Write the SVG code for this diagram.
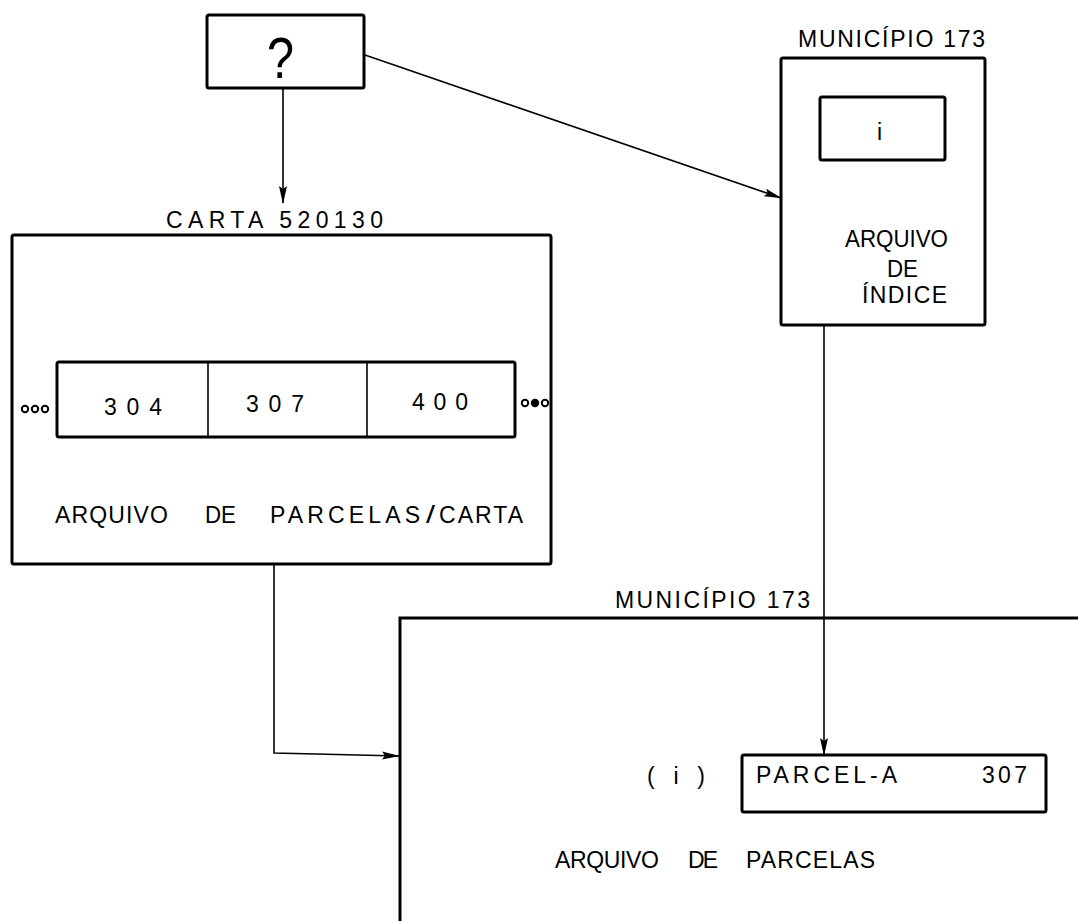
<svg xmlns="http://www.w3.org/2000/svg" width="1078" height="921" viewBox="0 0 1078 921">
<defs>
<marker id="ah" markerWidth="18" markerHeight="10" refX="17" refY="5" orient="auto" markerUnits="userSpaceOnUse">
<path d="M0,1 L18,5 L0,9 L3,5 Z" fill="#000"/>
</marker>
<style>
.box{fill:none;stroke:#000;stroke-width:3}
.thin{fill:none;stroke:#000;stroke-width:1.6}
.t{font-family:"Liberation Sans",Arial,sans-serif;font-size:23px;fill:#000}
</style>
</defs>
<rect width="1078" height="921" fill="#fff"/>
<g id="query">
<rect class="box" x="207" y="15" width="157" height="73" rx="2"/>
<text class="t" x="267" y="78" style="font-size:58px" textLength="27" lengthAdjust="spacingAndGlyphs">?</text>
</g>
<g id="indice">
<text class="t" x="798" y="47" textLength="187" lengthAdjust="spacing">MUNICÍPIO 173</text>
<rect class="box" x="781" y="58" width="204" height="267" rx="2"/>
<rect class="box" x="820" y="97" width="125" height="63" rx="2"/>
<text class="t" x="877" y="140">i</text>
<text class="t" x="845" y="247" textLength="103" lengthAdjust="spacingAndGlyphs">ARQUIVO</text>
<text class="t" x="887" y="277" textLength="31" lengthAdjust="spacingAndGlyphs">DE</text>
<text class="t" x="862" y="303" textLength="85" lengthAdjust="spacing">ÍNDICE</text>
</g>
<g id="carta">
<text class="t" x="166" y="228" textLength="217" lengthAdjust="spacing">CARTA  520130</text>
<rect class="box" x="12" y="235" width="539" height="329" rx="2"/>
<rect class="box" x="57" y="362" width="458" height="75" rx="2"/>
<line class="thin" x1="208" y1="362" x2="208" y2="437"/>
<line class="thin" x1="367" y1="362" x2="367" y2="437"/>
<text class="t" x="104" y="415" textLength="58" lengthAdjust="spacing">304</text>
<text class="t" x="246" y="412" textLength="58" lengthAdjust="spacing">307</text>
<text class="t" x="412" y="410" textLength="56" lengthAdjust="spacing">400</text>
<g fill="none" stroke="#000" stroke-width="2">
<circle cx="25" cy="409" r="3.2"/><circle cx="35" cy="409" r="3.2"/><circle cx="45" cy="409" r="3.2"/>
<circle cx="525" cy="403" r="3.2"/><circle cx="535" cy="403" r="3.2" fill="#000"/><circle cx="545" cy="403" r="3.2"/>
</g>
<text class="t" x="55" y="523" textLength="113" lengthAdjust="spacing">ARQUIVO</text>
<text class="t" x="205" y="523" textLength="31" lengthAdjust="spacingAndGlyphs">DE</text>
<text class="t" x="270" y="523" textLength="150" lengthAdjust="spacing">PARCELAS</text>
<text class="t" x="426" y="523" textLength="9" lengthAdjust="spacingAndGlyphs">/</text>
<text class="t" x="439" y="523" textLength="84" lengthAdjust="spacing">CARTA</text>
</g>
<g id="parcelas">
<text class="t" x="615" y="608" textLength="195" lengthAdjust="spacing">MUNICÍPIO 173</text>
<polyline class="box" points="400,924 400,618 1081,618"/>
<rect class="box" x="742" y="755" width="304" height="57" rx="2"/>
<text class="t" x="647" y="784" textLength="58" lengthAdjust="spacing">( i )</text>
<text class="t" x="756" y="783" textLength="141" lengthAdjust="spacing">PARCEL-A</text>
<text class="t" x="982" y="783" textLength="45" lengthAdjust="spacing">307</text>
<text class="t" x="555" y="868" textLength="104" lengthAdjust="spacing">ARQUIVO</text>
<text class="t" x="688" y="868" textLength="30" lengthAdjust="spacing">DE</text>
<text class="t" x="746" y="868" textLength="129" lengthAdjust="spacing">PARCELAS</text>
</g>
<g id="connectors">
<line class="thin" x1="283" y1="88" x2="283" y2="203" marker-end="url(#ah)"/>
<line class="thin" x1="365" y1="55" x2="781" y2="198" marker-end="url(#ah)"/>
<line class="thin" x1="824" y1="325" x2="824" y2="755" marker-end="url(#ah)"/>
<polyline class="thin" points="274,564 274,753 399,756" marker-end="url(#ah)"/>
</g>
</svg>
